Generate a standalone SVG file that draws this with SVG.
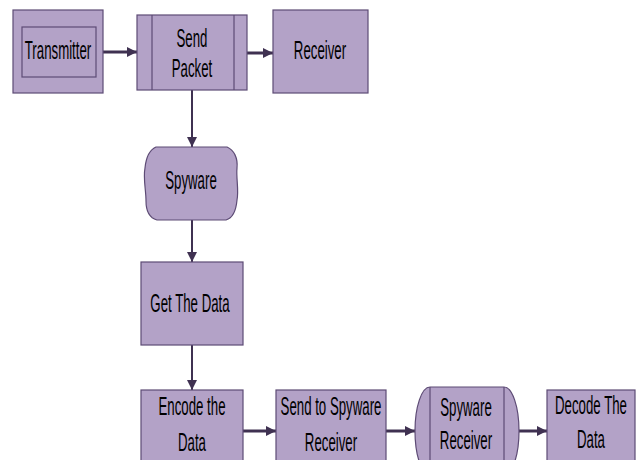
<svg xmlns="http://www.w3.org/2000/svg" width="637" height="460" viewBox="0 0 637 460">
<defs>
<style>
.n{fill:#b3a2c7;stroke:#5d4b75;stroke-width:1.2}
.l{fill:none;stroke:#5d4b75;stroke-width:1.2}
.c{fill:none;stroke:#3f3151;stroke-width:3}
.v{fill:none;stroke:#3f3151;stroke-width:2}
.t{font-family:"Liberation Sans",Arial,sans-serif;font-size:25px;fill:#000;text-anchor:middle}
</style>
<marker id="ah" viewBox="0 0 10 10" refX="10" refY="5" markerWidth="10" markerHeight="10" markerUnits="userSpaceOnUse" orient="auto">
<path d="M0,0 L10,5 L0,10 Z" fill="#3f3151"/>
</marker>
</defs>
<rect width="637" height="460" fill="#fff"/>
<g id="connectors">
<line class="c" x1="103" y1="52" x2="137" y2="52" marker-end="url(#ah)"/>
<line class="c" x1="247" y1="53" x2="273" y2="53" marker-end="url(#ah)"/>
<line class="v" x1="192" y1="90" x2="192" y2="147" marker-end="url(#ah)"/>
<line class="v" x1="192" y1="220" x2="192" y2="262" marker-end="url(#ah)"/>
<line class="v" x1="192" y1="345" x2="192" y2="390" marker-end="url(#ah)"/>
<line class="c" x1="243" y1="431" x2="276" y2="431" marker-end="url(#ah)"/>
<line class="c" x1="386" y1="431" x2="415" y2="431" marker-end="url(#ah)"/>
<line class="c" x1="519" y1="431" x2="547" y2="431" marker-end="url(#ah)"/>
</g>
<g id="transmitter">
<rect class="n" x="13" y="10" width="90" height="83"/>
<rect class="l" x="22" y="27" width="74" height="50"/>
<text class="t" transform="matrix(0.53 0 0 1 58 59)">Transmitter</text>
</g>
<g id="send-packet">
<rect class="n" x="137" y="15" width="110" height="75"/>
<line class="l" x1="152" y1="15" x2="152" y2="90"/>
<line class="l" x1="234" y1="15" x2="234" y2="90"/>
<text class="t" transform="matrix(0.53 0 0 1 192 47)">Send</text>
<text class="t" transform="matrix(0.53 0 0 1 192 77)">Packet</text>
</g>
<g id="receiver">
<rect class="n" x="273" y="10" width="95" height="83"/>
<text class="t" transform="matrix(0.53 0 0 1 320 59)">Receiver</text>
</g>
<g id="spyware">
<path class="n" d="M156,147 L227,147 C234,150 238,158 237,168 C236,178 239,190 237,200 C236,211 233,218 226,220 L157,220 C150,218 146,211 146,201 C146,190 143,178 145,168 C146,158 149,150 156,147 Z"/>
<text class="t" transform="matrix(0.53 0 0 1 191 189)">Spyware</text>
</g>
<g id="get-data">
<rect class="n" x="141" y="262" width="102" height="83"/>
<text class="t" transform="matrix(0.53 0 0 1 190 312)">Get The Data</text>
</g>
<g id="encode">
<rect class="n" x="141" y="390" width="102" height="83"/>
<text class="t" transform="matrix(0.53 0 0 1 192 415)">Encode the</text>
<text class="t" transform="matrix(0.53 0 0 1 192 451)">Data</text>
</g>
<g id="send-spyware">
<rect class="n" x="276" y="390" width="110" height="83"/>
<text class="t" transform="matrix(0.53 0 0 1 331 415)">Send to Spyware</text>
<text class="t" transform="matrix(0.53 0 0 1 331 451)">Receiver</text>
</g>
<g id="spyware-receiver">
<path class="n" d="M430,387 L504,387 A15,44 0 0 1 504,475 L430,475 A15,44 0 0 1 430,387 Z"/>
<line class="l" x1="430" y1="387" x2="430" y2="475"/>
<line class="l" x1="504" y1="387" x2="504" y2="475"/>
<text class="t" transform="matrix(0.53 0 0 1 466 416)">Spyware</text>
<text class="t" transform="matrix(0.53 0 0 1 466 449)">Receiver</text>
</g>
<g id="decode">
<rect class="n" x="547" y="390" width="88" height="83"/>
<text class="t" transform="matrix(0.53 0 0 1 591 414)">Decode The</text>
<text class="t" transform="matrix(0.53 0 0 1 591 448)">Data</text>
</g>
</svg>
